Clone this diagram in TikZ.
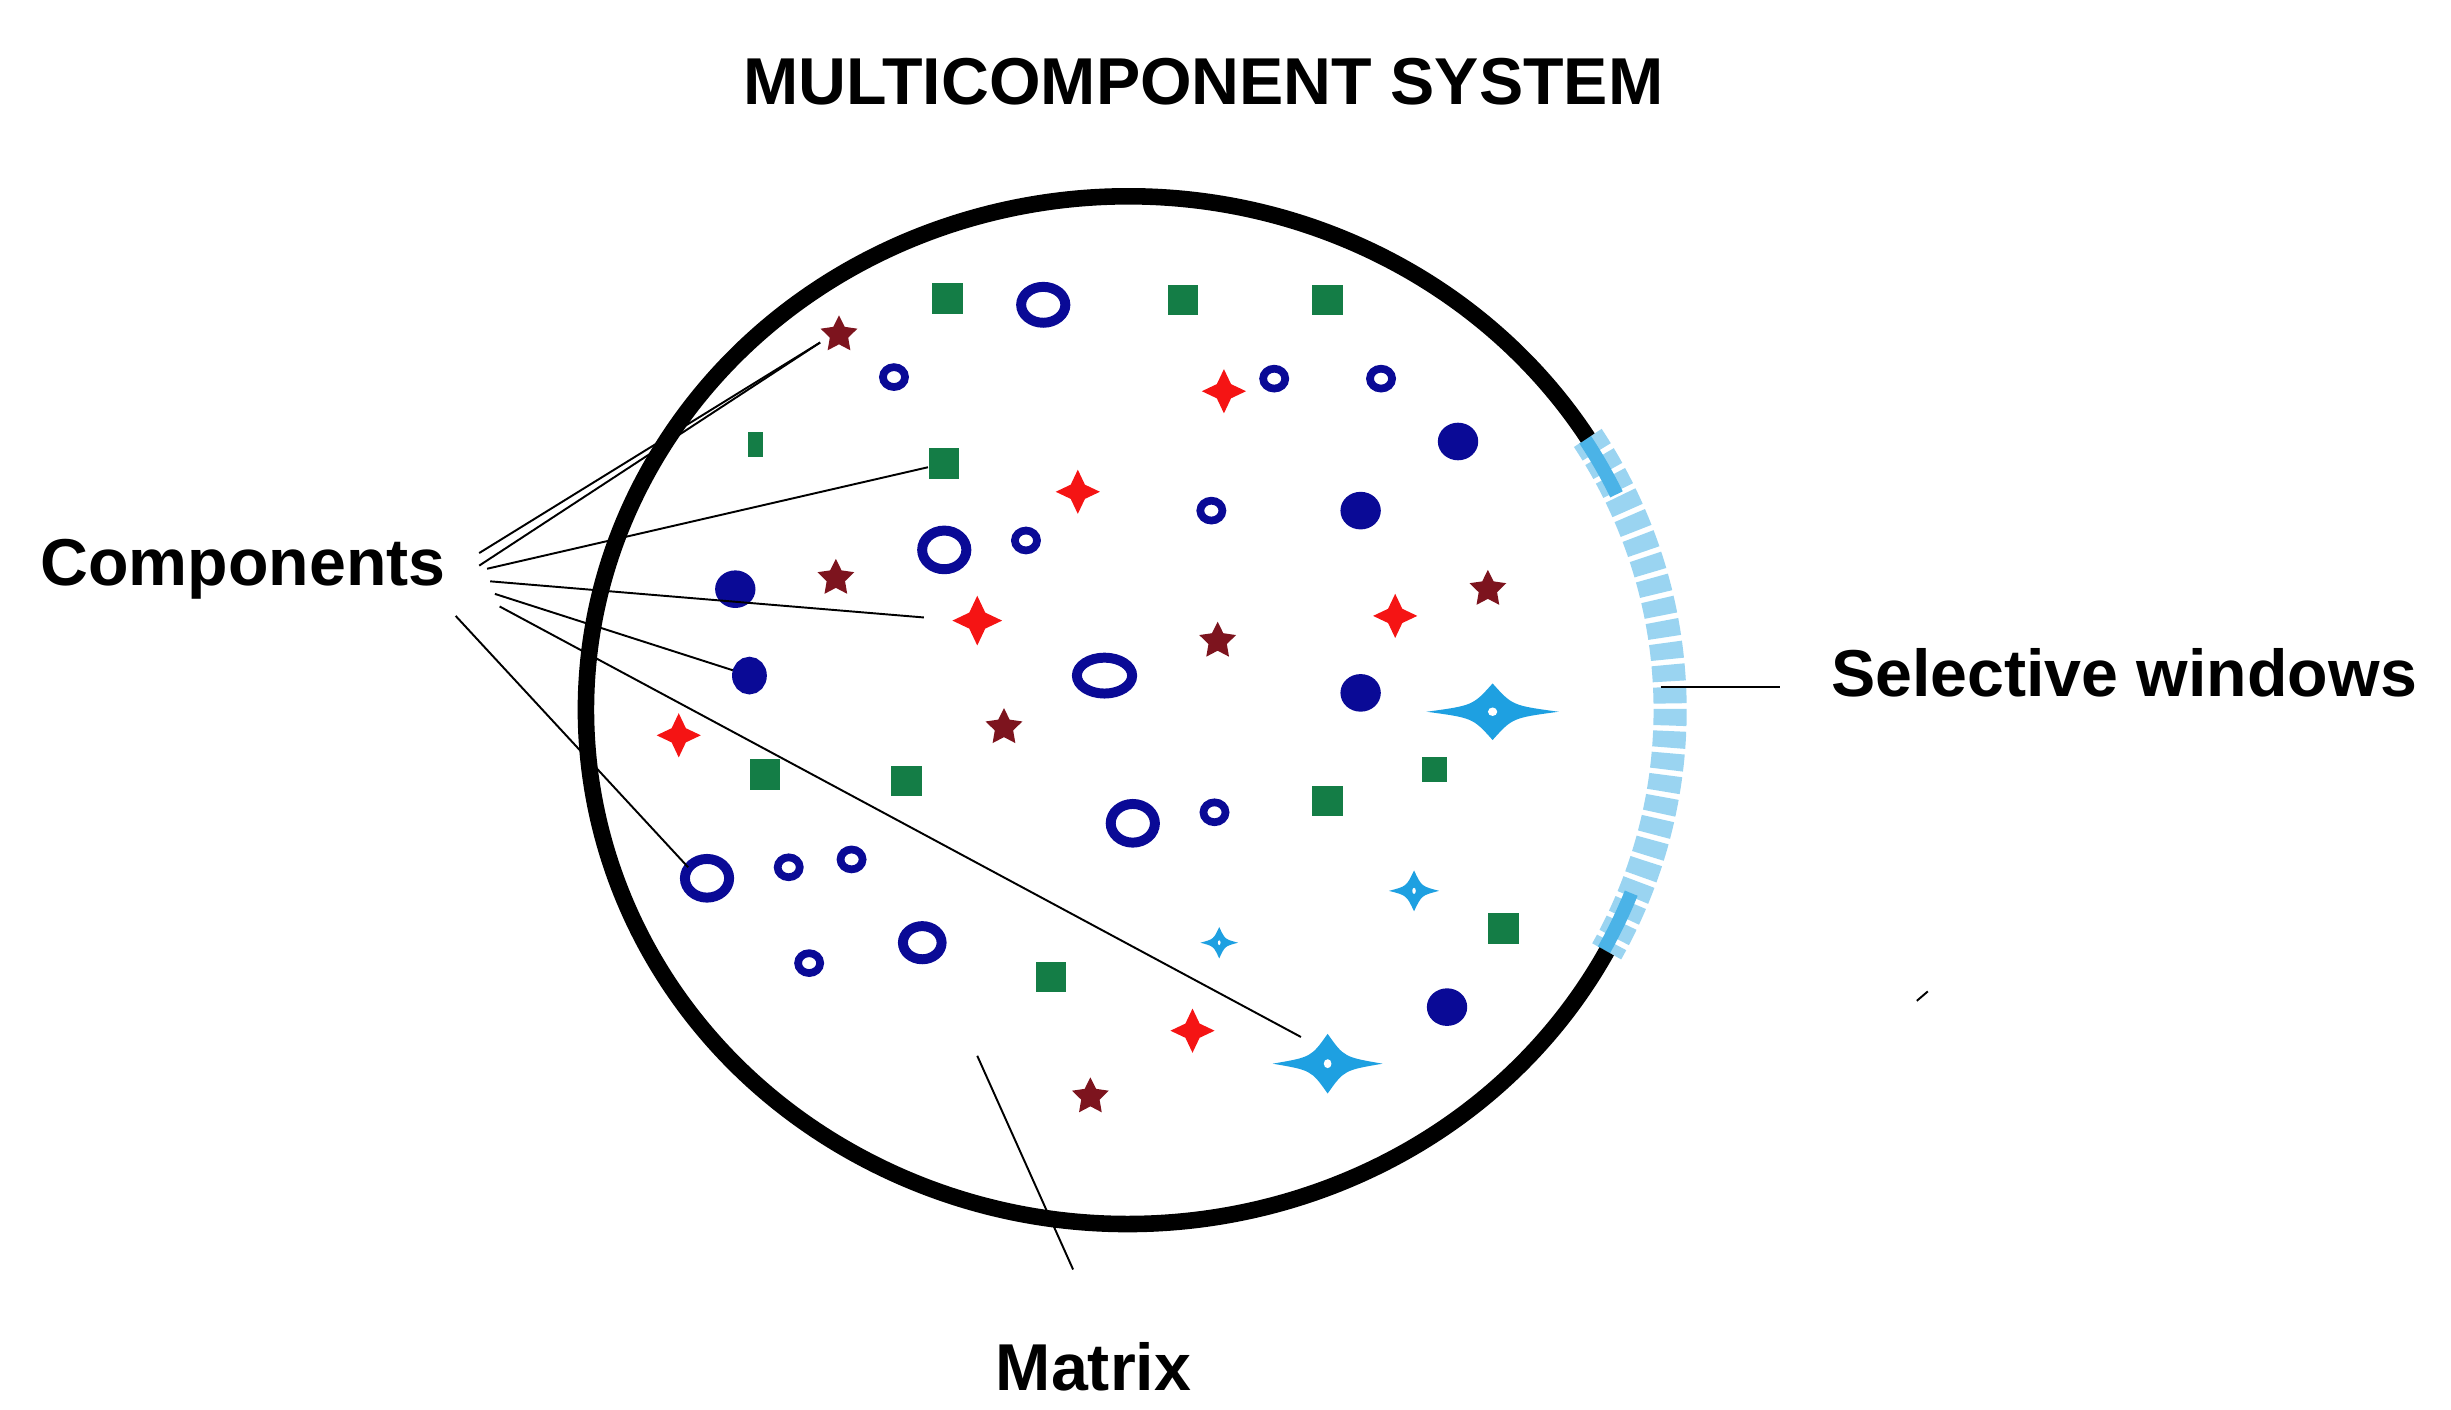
\documentclass[tikz,border=0pt]{standalone}
\usepackage{fontspec}
\setmainfont{Liberation Sans}
\usetikzlibrary{shapes.geometric}
\definecolor{gsq}{RGB}{20,125,70}
\definecolor{bl}{RGB}{10,10,150}
\definecolor{rd}{RGB}{245,20,20}
\definecolor{dr}{RGB}{125,20,30}
\definecolor{lb}{RGB}{30,160,225}
\tikzset{
 sq/.style={fill=gsq,minimum size=5.5pt,inner sep=0pt},
 ring/.style={draw=bl,ellipse,line width=1.8pt,inner sep=0pt},
 rcross/.style={star,star points=4,star point ratio=2.2,fill=rd,minimum size=8pt,inner sep=0pt},
 dstar/.style={star,star points=5,star point ratio=2,fill=dr,minimum size=7pt,inner sep=0pt},
 lbl/.style={font=\bfseries\fontsize{12}{14}\selectfont},
 ln/.style={line width=0.35pt}
}
\newcommand\lbs[5]{% name x y halfwidth halfheight
 \node[inner sep=0pt] (#1) at (#2,#3) {};
 \fill[lb] (#2-#4,#3) .. controls (#2-0.3*#4,#3-0.22*#5) .. (#2,#3-#5)
  .. controls (#2+0.3*#4,#3-0.22*#5) .. (#2+#4,#3)
  .. controls (#2+0.3*#4,#3+0.22*#5) .. (#2,#3+#5)
  .. controls (#2-0.3*#4,#3+0.22*#5) .. (#2-#4,#3);
 \fill[white] (#2,#3) ellipse ({0.07*#4} and {0.15*#5});}
\begin{document}
\begin{tikzpicture}[x=0.01cm,y=-0.01cm]
\useasboundingbox (0,0) rectangle (1560,897);
\node[lbl] (title) at (766,52) {MULTICOMPONENT SYSTEM};
\node[lbl,anchor=east] (comp) at (296,362) {Components};
\node[lbl,anchor=west] (sel) at (1153,428) {Selective windows};
\node[lbl] (mat) at (696,870) {Matrix};
% window
\draw[lb!45,line width=6pt,dash pattern=on 3pt off 1pt] (718,452) ++(-32:345 and 327) arc (-32:28:345 and 327);
\draw[lb!80,line width=2.5pt] (718,452) ++(-32:343 and 325) arc (-32:-25:343 and 325);
\draw[lb!80,line width=2.5pt] (718,452) ++(21:343 and 325) arc (21:28:343 and 325);
\draw[black,line width=3pt] (718,452) ++(28:345 and 327) arc (28:328:345 and 327);
% squares
\foreach \x/\y in {603/190,753/191,845/191,487/493,577/497,845/510,957/591,669/622}
  \node[sq] at (\x,\y) {};
\node[sq,minimum width=2.8pt,minimum height=4.5pt] at (481,283) {};
\node[sq,minimum size=4.5pt] at (913,490) {};
\node[sq] (s2) at (601,295) {};
% large rings
\node[ring,minimum width=8pt,minimum height=6.5pt] at (664,194) {};
\node[ring,minimum width=8pt,minimum height=7pt] at (601,350) {};
\node[ring,minimum width=10pt,minimum height=6.5pt] at (703,430) {};
\node[ring,minimum width=8pt,minimum height=7pt] at (721,524) {};
\node[ring,minimum width=8pt,minimum height=7pt] (r6) at (450,559) {};
\node[ring,minimum width=7pt,minimum height=6pt] at (587,600) {};
% small rings
\foreach \x/\y in {569/240,811/241,879/241,653/344,771/325,773/517,502/552,542/547,515/613}
  \node[ring,minimum width=4pt,minimum height=3.6pt,line width=1.4pt] at (\x,\y) {};
% filled blobs
\foreach \x/\y in {928/281,866/325,468/375,866/441,921/641}
  \node[ring,fill=bl,minimum width=5.5pt,minimum height=5pt] at (\x,\y) {};
\node[ring,fill=bl,minimum width=4.5pt,minimum height=5pt] (b4) at (477,430) {};
% red crosses
\foreach \x/\y in {779/249,686/313,888/392,432/468,759/656}
  \node[rcross] at (\x,\y) {};
\node[rcross,minimum size=9pt] (rc) at (622,395) {};
% dark stars
\foreach \x/\y in {532/368,775/408,947/375,639/463,694/698}
  \node[dstar] at (\x,\y) {};
\node[dstar] (ds) at (534,213) {};
% light blue stars
\lbs{lb1}{950}{453}{42}{18}
\lbs{lb2}{845}{677}{35}{19}
\lbs{lb3}{900}{567}{16}{13}
\lbs{lb4}{776}{600}{12}{10}
% leader lines
\coordinate (c0) at (305,360);
\coordinate (c1) at (305,352);
\coordinate (c2) at (310,362);
\coordinate (c3) at (312,370);
\coordinate (c4) at (315,378);
\coordinate (c5) at (318,386);
\coordinate (c6) at (290,392);
\coordinate (c7) at (522,218);
\draw[ln] (c1) -- (c7);
\draw[ln] (c0) -- (c7);
\draw[ln] (c2) -- (s2);
\draw[ln] (c3) -- (588,393);
\draw[ln] (c4) -- (b4);
\draw[ln] (c5) -- (828,660);
\draw[ln] (c6) -- (438,552);
\coordinate (m1) at (622,672);
\coordinate (m2) at (683,808);
\draw[ln] (m1) -- (m2);
\coordinate (w1) at (1057,437);
\coordinate (w2) at (1133,437);
\draw[ln] (w1) -- (w2);
\coordinate (t1) at (1220,637);
\coordinate (t2) at (1227,631);
\draw[ln] (t1) -- (t2);
\end{tikzpicture}
\end{document}
